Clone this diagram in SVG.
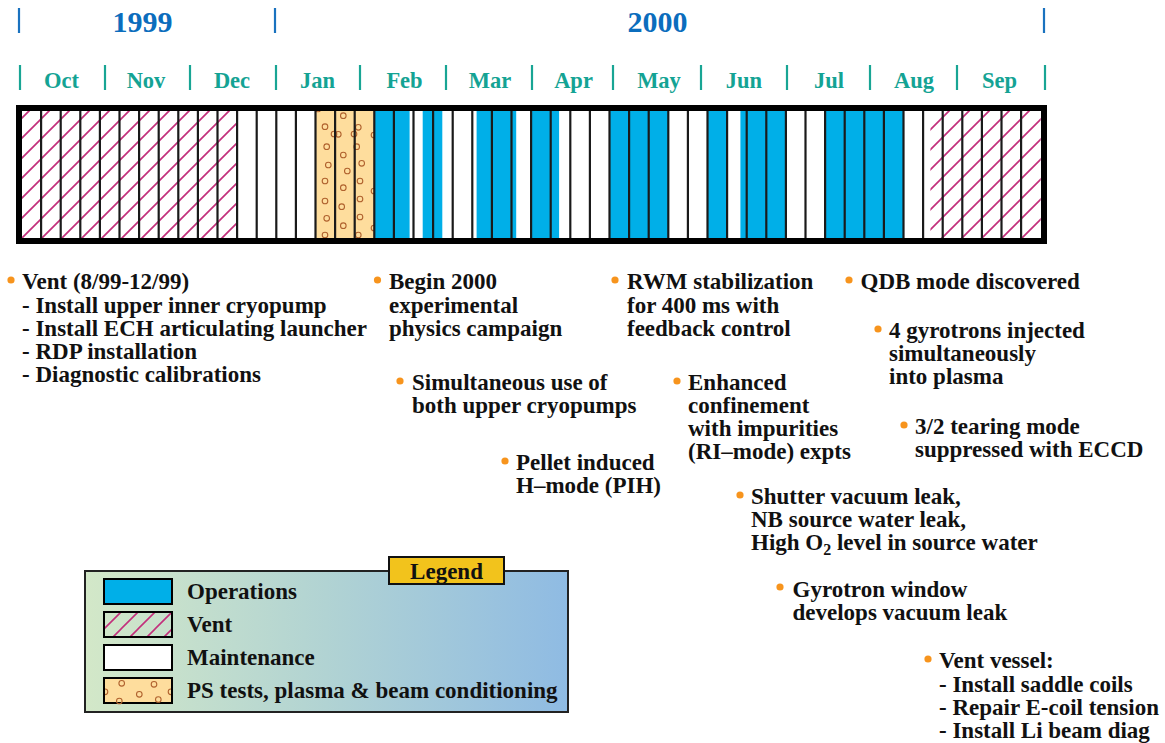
<svg xmlns="http://www.w3.org/2000/svg" width="1165" height="743" viewBox="0 0 1165 743">
<style>
  .t { font-family: "Liberation Serif", "Times New Roman", serif; font-weight: bold; font-size: 23px; fill: #111; }
  .yr { font-family: "Liberation Serif", "Times New Roman", serif; font-weight: bold; font-size: 30px; fill: #0b6dbd; text-anchor: middle; }
  .mo { font-family: "Liberation Serif", "Times New Roman", serif; font-weight: bold; font-size: 22.5px; fill: #14a394; text-anchor: middle; }
  .ytick { stroke: #1a72bf; stroke-width: 2.2; }
  .mtick { stroke: #18a594; stroke-width: 2.2; }
  .ops { fill: #00afe8; }
  .div { stroke: #1a1a1a; stroke-width: 2.2; }
  .dot { fill: #f7941d; }
  .ring { fill: none; stroke: #b0622e; stroke-width: 1.1; }
  .sw { stroke: #000; stroke-width: 2; }
</style>
<defs>
  <pattern id="hatch" patternUnits="userSpaceOnUse" width="20" height="20">
    <rect width="20" height="20" fill="#fff"/>
    <path d="M-5,5 L5,-5 M0,20 L20,0 M15,25 L25,15" stroke="#c3307c" stroke-width="1.7"/>
  </pattern>
  <pattern id="hatchL" patternUnits="userSpaceOnUse" width="17" height="17" x="104" y="612">
    <path d="M-5,5 L5,-5 M0,17 L17,0 M12,22 L22,12" stroke="#c3307c" stroke-width="1.6"/>
  </pattern>
  <linearGradient id="lg" x1="0" y1="0" x2="1" y2="0">
    <stop offset="0" stop-color="#d3e8c8"/>
    <stop offset="0.5" stop-color="#b1d3d3"/>
    <stop offset="1" stop-color="#8fbbe3"/>
  </linearGradient>
  <clipPath id="psclip"><rect x="315.5" y="111" width="58.8" height="127"/></clipPath>
</defs>

<!-- Header -->
<g id="header">
  <line class="ytick" x1="19" y1="8" x2="19" y2="33"/>
  <line class="ytick" x1="275" y1="8" x2="275" y2="33"/>
  <line class="ytick" x1="1044" y1="8" x2="1044" y2="33"/>
  <text class="yr" x="142.5" y="32">1999</text>
  <text class="yr" x="657.5" y="32">2000</text>
  <line class="mtick" x1="20" y1="65" x2="20" y2="90"/>
  <line class="mtick" x1="105" y1="65" x2="105" y2="90"/>
  <line class="mtick" x1="190" y1="65" x2="190" y2="90"/>
  <line class="mtick" x1="276" y1="65" x2="276" y2="90"/>
  <line class="mtick" x1="360" y1="65" x2="360" y2="90"/>
  <line class="mtick" x1="446" y1="65" x2="446" y2="90"/>
  <line class="mtick" x1="532" y1="65" x2="532" y2="90"/>
  <line class="mtick" x1="613" y1="65" x2="613" y2="90"/>
  <line class="mtick" x1="701" y1="65" x2="701" y2="90"/>
  <line class="mtick" x1="787" y1="65" x2="787" y2="90"/>
  <line class="mtick" x1="870" y1="65" x2="870" y2="90"/>
  <line class="mtick" x1="957" y1="65" x2="957" y2="90"/>
  <line class="mtick" x1="1045" y1="65" x2="1045" y2="90"/>
  <text class="mo" x="61.5" y="88">Oct</text>
  <text class="mo" x="146" y="88">Nov</text>
  <text class="mo" x="232" y="88">Dec</text>
  <text class="mo" x="317.5" y="88">Jan</text>
  <text class="mo" x="404.5" y="88">Feb</text>
  <text class="mo" x="490" y="88">Mar</text>
  <text class="mo" x="573.5" y="88">Apr</text>
  <text class="mo" x="659" y="88">May</text>
  <text class="mo" x="744" y="88">Jun</text>
  <text class="mo" x="829" y="88">Jul</text>
  <text class="mo" x="914" y="88">Aug</text>
  <text class="mo" x="999.5" y="88">Sep</text>
</g>

<!-- Schedule bar -->
<g id="bar">
  <rect x="19" y="108" width="1025" height="133" fill="#fff"/>
  <rect x="21.5" y="110" width="215.6" height="129" fill="url(#hatch)"/>
  <rect x="930.4" y="110" width="110.3" height="129" fill="url(#hatch)"/>
  <rect x="315.5" y="110" width="58.8" height="129" fill="#fedd9d"/>
  <g clip-path="url(#psclip)">
    <circle class="ring" cx="318" cy="109" r="2.8"/>
    <circle class="ring" cx="325" cy="126.7" r="2.8"/>
    <circle class="ring" cx="326.7" cy="146.7" r="2.8"/>
    <circle class="ring" cx="328.3" cy="165" r="2.8"/>
    <circle class="ring" cx="325" cy="181" r="2.8"/>
    <circle class="ring" cx="325" cy="201" r="2.8"/>
    <circle class="ring" cx="326.7" cy="218.3" r="2.8"/>
    <circle class="ring" cx="325" cy="235" r="2.8"/>
    <circle class="ring" cx="343.3" cy="115.7" r="2.8"/>
    <circle class="ring" cx="338.3" cy="134.3" r="2.8"/>
    <circle class="ring" cx="343.3" cy="155" r="2.8"/>
    <circle class="ring" cx="347.3" cy="171" r="2.8"/>
    <circle class="ring" cx="343.3" cy="187.7" r="2.8"/>
    <circle class="ring" cx="341.7" cy="206.7" r="2.8"/>
    <circle class="ring" cx="343.3" cy="225.7" r="2.8"/>
    <circle class="ring" cx="358.3" cy="127.3" r="2.8"/>
    <circle class="ring" cx="356.7" cy="146.7" r="2.8"/>
    <circle class="ring" cx="361.7" cy="163.3" r="2.8"/>
    <circle class="ring" cx="360" cy="181" r="2.8"/>
    <circle class="ring" cx="360" cy="199" r="2.8"/>
    <circle class="ring" cx="360" cy="217" r="2.8"/>
    <circle class="ring" cx="358.3" cy="235" r="2.8"/>
    <circle class="ring" cx="334" cy="134" r="2.8"/>
    <circle class="ring" cx="354" cy="134" r="2.8"/>
    <circle class="ring" cx="374" cy="135" r="2.8"/>
    <circle class="ring" cx="374" cy="228" r="2.8"/>
    <circle class="ring" cx="374" cy="191" r="2.8"/>
  </g>
  <rect class="ops" x="374.3" y="110" width="35.3" height="129"/>
  <rect class="ops" x="422.7" y="110" width="19.6" height="129"/>
  <rect class="ops" x="476.6" y="110" width="39.6" height="129"/>
  <rect class="ops" x="531.1" y="110" width="28" height="129"/>
  <rect class="ops" x="609.5" y="110" width="58.8" height="129"/>
  <rect class="ops" x="707.5" y="110" width="19.6" height="129"/>
  <rect class="ops" x="740.4" y="110" width="45.5" height="129"/>
  <rect class="ops" x="825.1" y="110" width="78.4" height="129"/>
  <g id="dividers">
    <line class="div" x1="41.1" y1="110" x2="41.1" y2="239"/>
    <line class="div" x1="60.7" y1="110" x2="60.7" y2="239"/>
    <line class="div" x1="80.3" y1="110" x2="80.3" y2="239"/>
    <line class="div" x1="99.9" y1="110" x2="99.9" y2="239"/>
    <line class="div" x1="119.5" y1="110" x2="119.5" y2="239"/>
    <line class="div" x1="139.1" y1="110" x2="139.1" y2="239"/>
    <line class="div" x1="158.7" y1="110" x2="158.7" y2="239"/>
    <line class="div" x1="178.3" y1="110" x2="178.3" y2="239"/>
    <line class="div" x1="197.9" y1="110" x2="197.9" y2="239"/>
    <line class="div" x1="217.5" y1="110" x2="217.5" y2="239"/>
    <line class="div" x1="237.1" y1="110" x2="237.1" y2="239"/>
    <line class="div" x1="256.7" y1="110" x2="256.7" y2="239"/>
    <line class="div" x1="276.3" y1="110" x2="276.3" y2="239"/>
    <line class="div" x1="295.9" y1="110" x2="295.9" y2="239"/>
    <line class="div" x1="315.5" y1="110" x2="315.5" y2="239"/>
    <line class="div" x1="335.1" y1="110" x2="335.1" y2="239"/>
    <line class="div" x1="354.7" y1="110" x2="354.7" y2="239"/>
    <line class="div" x1="374.3" y1="110" x2="374.3" y2="239"/>
    <line class="div" x1="393.9" y1="110" x2="393.9" y2="239"/>
    <line class="div" x1="413.5" y1="110" x2="413.5" y2="239"/>
    <line class="div" x1="433.1" y1="110" x2="433.1" y2="239"/>
    <line class="div" x1="452.7" y1="110" x2="452.7" y2="239"/>
    <line class="div" x1="472.3" y1="110" x2="472.3" y2="239"/>
    <line class="div" x1="491.9" y1="110" x2="491.9" y2="239"/>
    <line class="div" x1="511.5" y1="110" x2="511.5" y2="239"/>
    <line class="div" x1="531.1" y1="110" x2="531.1" y2="239"/>
    <line class="div" x1="550.7" y1="110" x2="550.7" y2="239"/>
    <line class="div" x1="570.3" y1="110" x2="570.3" y2="239"/>
    <line class="div" x1="589.9" y1="110" x2="589.9" y2="239"/>
    <line class="div" x1="609.5" y1="110" x2="609.5" y2="239"/>
    <line class="div" x1="629.1" y1="110" x2="629.1" y2="239"/>
    <line class="div" x1="648.7" y1="110" x2="648.7" y2="239"/>
    <line class="div" x1="668.3" y1="110" x2="668.3" y2="239"/>
    <line class="div" x1="687.9" y1="110" x2="687.9" y2="239"/>
    <line class="div" x1="707.5" y1="110" x2="707.5" y2="239"/>
    <line class="div" x1="727.1" y1="110" x2="727.1" y2="239"/>
    <line class="div" x1="746.7" y1="110" x2="746.7" y2="239"/>
    <line class="div" x1="766.3" y1="110" x2="766.3" y2="239"/>
    <line class="div" x1="785.9" y1="110" x2="785.9" y2="239"/>
    <line class="div" x1="805.5" y1="110" x2="805.5" y2="239"/>
    <line class="div" x1="825.1" y1="110" x2="825.1" y2="239"/>
    <line class="div" x1="844.7" y1="110" x2="844.7" y2="239"/>
    <line class="div" x1="864.3" y1="110" x2="864.3" y2="239"/>
    <line class="div" x1="883.9" y1="110" x2="883.9" y2="239"/>
    <line class="div" x1="903.5" y1="110" x2="903.5" y2="239"/>
    <line class="div" x1="923.1" y1="110" x2="923.1" y2="239"/>
    <line class="div" x1="942.7" y1="110" x2="942.7" y2="239"/>
    <line class="div" x1="962.3" y1="110" x2="962.3" y2="239"/>
    <line class="div" x1="981.9" y1="110" x2="981.9" y2="239"/>
    <line class="div" x1="1001.5" y1="110" x2="1001.5" y2="239"/>
    <line class="div" x1="1021.1" y1="110" x2="1021.1" y2="239"/>
  </g>
  <rect x="19" y="108" width="1025" height="133" fill="none" stroke="#000" stroke-width="6"/>
</g>

<!-- Annotations -->
<g id="note-vent1999">
  <circle class="dot" cx="11" cy="280" r="3.6"/>
  <text class="t" x="22" y="289">Vent (8/99-12/99)</text>
  <text class="t" x="22" y="312.5">- Install upper inner cryopump</text>
  <text class="t" x="22" y="336">- Install ECH articulating launcher</text>
  <text class="t" x="22" y="359">- RDP installation</text>
  <text class="t" x="22" y="382">- Diagnostic calibrations</text>
</g>
<g id="note-begin">
  <circle class="dot" cx="377.5" cy="280" r="3.6"/>
  <text class="t" x="389" y="289">Begin 2000</text>
  <text class="t" x="389" y="312.5">experimental</text>
  <text class="t" x="389" y="336">physics campaign</text>
</g>
<g id="note-simul">
  <circle class="dot" cx="400" cy="381" r="3.6"/>
  <text class="t" x="412" y="390">Simultaneous use of</text>
  <text class="t" x="412" y="413">both upper cryopumps</text>
</g>
<g id="note-pellet">
  <circle class="dot" cx="505" cy="461" r="3.6"/>
  <text class="t" x="516" y="470">Pellet induced</text>
  <text class="t" x="516" y="493">H–mode (PIH)</text>
</g>
<g id="note-rwm">
  <circle class="dot" cx="615" cy="280" r="3.6"/>
  <text class="t" x="627" y="289">RWM stabilization</text>
  <text class="t" x="627" y="312.5">for 400 ms with</text>
  <text class="t" x="627" y="336">feedback control</text>
</g>
<g id="note-enhanced">
  <circle class="dot" cx="677" cy="381" r="3.6"/>
  <text class="t" x="688" y="390">Enhanced</text>
  <text class="t" x="688" y="413">confinement</text>
  <text class="t" x="688" y="436">with impurities</text>
  <text class="t" x="688" y="459">(RI–mode) expts</text>
</g>
<g id="note-qdb">
  <circle class="dot" cx="849" cy="280" r="3.6"/>
  <text class="t" x="860.5" y="289">QDB mode discovered</text>
</g>
<g id="note-gyro4">
  <circle class="dot" cx="878" cy="329" r="3.6"/>
  <text class="t" x="889" y="338">4 gyrotrons injected</text>
  <text class="t" x="889" y="361">simultaneously</text>
  <text class="t" x="889" y="384">into plasma</text>
</g>
<g id="note-tearing">
  <circle class="dot" cx="904" cy="425" r="3.6"/>
  <text class="t" x="915" y="434">3/2 tearing mode</text>
  <text class="t" x="915" y="457">suppressed with ECCD</text>
</g>
<g id="note-shutter">
  <circle class="dot" cx="740" cy="495" r="3.6"/>
  <text class="t" x="751" y="504">Shutter vacuum leak,</text>
  <text class="t" x="751" y="527">NB source water leak,</text>
  <text class="t" x="751" y="550">High O<tspan font-size="16" dy="5">2</tspan><tspan dy="-5"> level in source water</tspan></text>
</g>
<g id="note-window">
  <circle class="dot" cx="780" cy="587" r="3.6"/>
  <text class="t" x="792.5" y="596.5">Gyrotron window</text>
  <text class="t" x="792.5" y="620">develops vacuum leak</text>
</g>
<g id="note-vent2000">
  <circle class="dot" cx="928" cy="659" r="3.6"/>
  <text class="t" x="939" y="668">Vent vessel:</text>
  <text class="t" x="939" y="691.5">- Install saddle coils</text>
  <text class="t" x="939" y="714.5">- Repair E-coil tension</text>
  <text class="t" x="939" y="737.5">- Install Li beam diag</text>
</g>

<!-- Legend -->
<g id="legend">
  <rect x="85" y="571" width="483" height="141" fill="url(#lg)" stroke="#222" stroke-width="2"/>
  <rect x="389" y="557" width="115" height="27" fill="#f2c31c" stroke="#111" stroke-width="2"/>
  <text class="t" x="446.5" y="579" text-anchor="middle">Legend</text>
  <rect class="ops sw" x="104" y="579" width="68" height="25"/>
  <rect x="104" y="612" width="68" height="25" fill="url(#hatchL)"/>
  <rect x="104" y="612" width="68" height="25" fill="none" class="sw"/>
  <rect class="sw" x="104" y="645" width="68" height="25" fill="#fff"/>
  <rect class="sw" x="104" y="678" width="68" height="25" fill="#fedd9d"/>
  <circle class="ring" cx="121.7" cy="683.3" r="2.8"/>
  <circle class="ring" cx="139.3" cy="694.3" r="2.8"/>
  <circle class="ring" cx="154" cy="684.3" r="2.8"/>
  <circle class="ring" cx="119.3" cy="701" r="2.8"/>
  <circle class="ring" cx="158.3" cy="699.5" r="2.8"/>
  <path class="ring" d="M105,689 A2.8,2.8 0 0 1 105,694.6"/>
  <path class="ring" d="M171,689 A2.8,2.8 0 0 0 171,694.6"/>
  <text class="t" x="187" y="599">Operations</text>
  <text class="t" x="187" y="632">Vent</text>
  <text class="t" x="187" y="665">Maintenance</text>
  <text class="t" x="187" y="697.5">PS tests, plasma &amp; beam conditioning</text>
</g>
</svg>
